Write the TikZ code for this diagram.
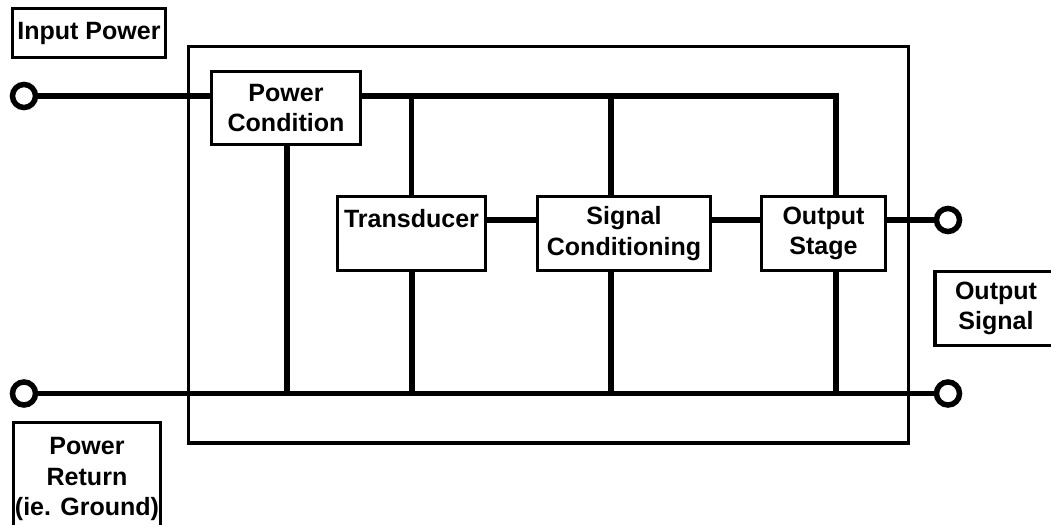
\documentclass[tikz,border=0pt]{standalone}
\usepackage{fontspec}
\setmainfont{Liberation Sans}
\usepackage{tikz}
\tikzset{
  blk/.style={draw, line width=2.7pt, align=center, inner sep=0pt,
    font=\fontsize{17.8}{21.8}\selectfont\bfseries},
  wire/.style={line width=3.9pt},
  term/.style={circle, draw, fill=white, line width=3.9pt, inner sep=0pt, minimum size=16.4pt},
}

\begin{document}
\begin{tikzpicture}[x=0.025cm, y=-0.025cm]
\useasboundingbox (0,0) rectangle (1051,525);
\draw[line width=2.3pt] (188.5,46.5) rectangle (908.5,443);
\node[blk, minimum width=3.825cm, minimum height=1.225cm] (inpow) at (89,33) {Input Power};
\node[blk, minimum width=3.725cm, minimum height=1.825cm] (pwrcond) at (286,108) {Power\\Condition};
\node[blk, minimum width=3.7cm, minimum height=1.85cm] (transd) at (411.5,233.5) {Transducer\\\mbox{}};
\node[blk, minimum width=4.325cm, minimum height=1.85cm] (sigcond) at (624,233.5) {Signal\\Conditioning};
\node[blk, minimum width=3.1cm, minimum height=1.85cm] (outstage) at (823.5,233.5) {Output\\Stage};
\node[blk, minimum width=3.05cm, minimum height=1.85cm] (outsig) at (996,308.5) {Output\\Signal};
\node[blk, minimum width=3.675cm, minimum height=2.825cm] (pwrret) at (87,479) {Power\\Return\\(ie. Ground)};
\node[term] (cin) at (24,96) {};
\node[term] (cret) at (24,393.5) {};
\node[term] (cout) at (948,220) {};
\node[term] (cgnd) at (948,393.5) {};
\coordinate (rail) at (836,96);
\draw[wire] (cin) -- (cin -| pwrcond.west);
\draw[wire] (pwrcond.east |- cin) -| (outstage.north -| rail);
\draw[wire] (transd.north |- cin) -- (transd.north);
\draw[wire] (611,96) -- (611,196.5);
\draw[wire] (cret) -- (cgnd);
\foreach \n/\x in {pwrcond/287, transd/412, sigcond/611, outstage/836}
  \draw[wire] (\n.south -| \x,0) -- (\x,393.5);
\draw[wire] (transd.east |- cout) -- (sigcond.west |- cout);
\draw[wire] (sigcond.east |- cout) -- (outstage.west |- cout);
\draw[wire] (outstage.east |- cout) -- (cout);
\end{tikzpicture}
\end{document}
